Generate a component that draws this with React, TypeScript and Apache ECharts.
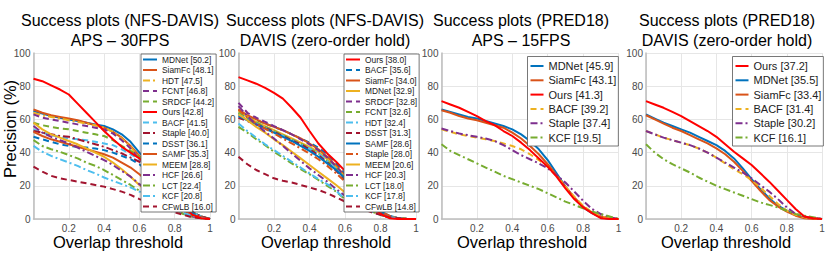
import React, { useEffect, useRef } from 'react';
import * as echarts from 'echarts';

// Overlap thresholds (x values)
const thresholds = [0, 0.05, 0.1, 0.15, 0.2, 0.25, 0.3, 0.35, 0.4, 0.45, 0.5, 0.55, 0.6, 0.65, 0.7, 0.75, 0.8, 0.85, 0.9, 0.95, 1];

const xTicks = [0, 0.2, 0.4, 0.6, 0.8, 1];
const yTicks = [0, 20, 40, 60, 80, 100];

const titles = [
  ['Success plots (NFS-DAVIS)', 'APS – 30FPS'],
  ['Success plots (NFS-DAVIS)', 'DAVIS (zero-order hold)'],
  ['Success plots (PRED18)', 'APS – 15FPS'],
  ['Success plots (PRED18)', 'DAVIS (zero-order hold)'],
];
const xLabel = 'Overlap threshold';
const yLabel = 'Precision (%)';

// ---------- Panel 1: NFS-DAVIS, APS 30FPS ----------
const p1Names = ['MDNet [50.2]', 'SiamFc [48.1]', 'HDT [47.5]', 'FCNT [46.8]', 'SRDCF [44.2]', 'Ours [42.8]', 'BACF [41.5]', 'Staple [40.0]', 'DSST [36.1]', 'SAMF [35.3]', 'MEEM [28.8]', 'HCF [26.6]', 'LCT [22.4]', 'KCF [20.8]', 'CFwLB [16.0]'];
const p1MDNet = [65, 63.5, 62, 61, 60, 59, 58, 57, 56, 54, 51, 46.5, 40, 34, 28, 21, 14, 8, 4, 1.5, 0];
const p1SiamFc = [66, 64, 62.5, 61.5, 60.5, 59.5, 58, 56.5, 55, 52.5, 49, 44, 38, 32, 26, 20, 13.5, 8, 4, 1.5, 0];
const p1HDT = [64, 62.5, 61.5, 60.5, 59.5, 58.5, 57.5, 56.5, 55, 52.5, 48.5, 43.5, 37, 31, 25, 19, 13, 7.5, 3.5, 1, 0];
const p1FCNT = [63, 61, 60, 59, 58, 57, 56, 55, 54, 51.5, 47.5, 42.5, 36, 30.5, 25, 19, 13, 7.5, 3.5, 1, 0];
const p1SRDCF = [58, 56.5, 55.5, 54.5, 54, 53, 52, 51, 50, 47.5, 44, 41, 37.5, 32, 26, 20, 14, 8, 4, 1.5, 0];
const p1Ours = [84.5, 83, 80.5, 78, 75, 69.5, 64, 58.5, 53, 48, 43.5, 40, 36.5, 32, 26.5, 20.5, 14, 8, 2.5, 0.5, 0];
const p1BACF = [54, 52, 50.5, 49.5, 48.5, 48, 47.5, 46.5, 45.5, 44.5, 42, 39, 36, 31, 25.5, 19.5, 13.5, 8, 4, 1.5, 0];
const p1Staple = [53, 52, 51, 50, 49.5, 48, 46.5, 45, 43.5, 41.5, 39.5, 37, 34.5, 30, 25, 19.5, 13.5, 8, 4, 1.5, 0];
const p1DSST = [49.5, 48, 46.5, 45, 44, 43.5, 43, 42.5, 41.5, 40, 38, 36, 33, 28.5, 23.5, 18, 12.5, 7.5, 3.5, 1, 0];
const p1SAMF = [52.5, 50, 48, 46.5, 45, 43.5, 42, 40.5, 39, 37, 34, 31, 27, 22.5, 18, 13.5, 9, 5, 2.5, 1, 0];
const p1MEEM = [58, 54, 51, 49, 47, 45, 42.5, 40, 37.5, 34, 30, 25.5, 20.5, 16, 12, 8.5, 5.5, 3, 1.5, 0.5, 0];
const p1HCF = [56, 52, 49.5, 47.5, 45.5, 43, 40.5, 38, 35.5, 32.5, 29, 25.5, 21, 17, 13, 9.5, 6, 3.5, 1.5, 0.5, 0];
const p1LCT = [47.5, 44, 42, 40.5, 38.5, 36.5, 34, 32, 29.5, 26.5, 23.5, 20.5, 17, 14, 11, 8, 5.5, 3, 1.5, 0.5, 0];
const p1KCF = [44, 40.5, 38, 36, 34, 32, 29.5, 27.5, 25, 23, 21, 19, 16.5, 14, 11, 8.5, 6, 3.5, 2, 0.5, 0];
const p1CFwLB = [31.5, 28.5, 26, 24.5, 23.5, 22.5, 21.5, 20.5, 19.5, 18, 16.5, 14.5, 12, 10, 8, 6, 4, 2.5, 1, 0.5, 0];

// ---------- Panel 2: NFS-DAVIS, DAVIS (zero-order hold) ----------
const p2Names = ['Ours [38.0]', 'BACF [35.6]', 'SiamFc [34.0]', 'MDNet [32.9]', 'SRDCF [32.8]', 'FCNT [32.6]', 'HDT [32.4]', 'DSST [31.3]', 'SAMF [28.6]', 'Staple [28.0]', 'MEEM [20.6]', 'HCF [20.3]', 'LCT [18.0]', 'KCF [17.8]', 'CFwLB [14.8]'];
const p2Ours = [85.5, 83.5, 81.5, 79, 76, 72.5, 67, 61, 53, 45.5, 39.5, 34.5, 29, 21, 14, 8, 3, 0.5, 0, 0, 0];
const p2BACF = [63, 61.5, 59.5, 57.5, 55.5, 53.5, 51, 48.5, 46, 43, 39, 33.5, 27, 20, 13, 7.5, 3.5, 1, 0.5, 0, 0];
const p2SiamFc = [66, 62.5, 60, 57.5, 55.5, 53.5, 51, 48.5, 45.5, 42, 37.5, 32, 26, 19.5, 13, 7.5, 3.5, 1.5, 0.5, 0, 0];
const p2MDNet = [65, 61.5, 58.5, 56, 53.5, 51, 48.5, 46, 43.5, 40.5, 36, 31, 25, 19, 13, 8, 4, 1.5, 0.5, 0, 0];
const p2SRDCF = [70, 64, 61, 58.5, 56, 53.5, 51, 48, 45, 41.5, 37, 31.5, 25.5, 19, 12.5, 7, 3, 1, 0.5, 0, 0];
const p2FCNT = [64, 60.5, 58, 55.5, 53, 50.5, 48, 45.5, 42.5, 39.5, 35, 30, 24.5, 18.5, 12.5, 7.5, 3.5, 1.5, 0.5, 0, 0];
const p2HDT = [63, 60, 57.5, 55, 52.5, 50, 47.5, 45, 42.5, 39.5, 35, 30, 24, 18, 12, 7, 3.5, 1.5, 0.5, 0, 0];
const p2DSST = [61, 59, 57, 55, 52.5, 50, 47.5, 45, 42, 38.5, 34, 29, 23.5, 17.5, 12, 7, 3.5, 1.5, 0.5, 0, 0];
const p2SAMF = [62, 59.5, 57, 54.5, 52, 49.5, 47, 44, 41, 37.5, 33.5, 29.5, 24.5, 19, 13.5, 8.5, 4.5, 2, 0.5, 0, 0];
const p2Staple = [66, 61, 57.5, 54.5, 51.5, 48.5, 45.5, 42.5, 39.5, 36, 32, 27.5, 22.5, 17.5, 12.5, 8, 4.5, 2, 0.5, 0, 0];
const p2MEEM = [63, 59.5, 55.5, 52, 48, 44.5, 40.5, 36.5, 32.5, 28.5, 24.5, 20.5, 16, 12, 8, 5, 2.5, 1, 0.5, 0, 0];
const p2HCF = [68, 62, 57, 52.5, 48.5, 44, 39.5, 35, 30.5, 26.5, 22.5, 18, 14, 10.5, 7, 4.5, 2.5, 1, 0.5, 0, 0];
const p2LCT = [55.5, 52, 48, 44.5, 40.5, 37, 33.5, 30, 27, 23.5, 20, 16.5, 12, 9, 6.5, 4.5, 2.5, 1, 0.5, 0, 0];
const p2KCF = [57.5, 53, 49, 45, 41.5, 38, 34.5, 31, 27.5, 24, 21, 17, 12, 9, 6.5, 4.5, 2.5, 1, 0.5, 0, 0];
const p2CFwLB = [37.5, 33, 29.5, 27, 24.5, 23, 22, 20.5, 19, 17.5, 15.5, 13, 10.5, 8, 6, 4, 2.5, 1, 0.5, 0, 0];

// ---------- Panel 3: PRED18, APS 15FPS ----------
const p3Names = ['MDNet [45.9]', 'SiamFc [43.1]', 'Ours [41.3]', 'BACF [39.2]', 'Staple [37.4]', 'KCF [19.5]'];
const p3MDNet = [66, 64.5, 63, 61.5, 60.5, 59, 57.5, 56, 54, 51, 47, 42, 35.5, 27.5, 19.5, 12.5, 7, 3.5, 1, 0, 0];
const p3SiamFc = [65.5, 64, 62, 60.5, 59.5, 58, 56.5, 55, 52, 48.5, 44, 39, 33, 26.5, 19.5, 13, 7.5, 4, 1.5, 0.5, 0];
const p3Ours = [71, 69, 67, 64.5, 62, 59, 56.5, 53, 50, 46, 41.5, 36.5, 31.5, 25.5, 18.5, 12, 7, 3.5, 0.5, 0, 0];
const p3BACF = [54, 52.5, 51, 50, 49, 48, 47, 45.5, 44, 42, 39, 35.5, 31.5, 26, 19.5, 13.5, 8, 4, 1.5, 0.5, 0];
const p3Staple = [54.5, 53, 51.5, 50.5, 49.5, 48.5, 47, 44.5, 41.5, 38.5, 36, 33.5, 30.5, 26.5, 22, 16.5, 11, 6, 3, 1, 0];
const p3KCF = [45, 41, 38.5, 36, 33.5, 31, 28.5, 26, 24, 22, 20, 18, 15.5, 13, 10.5, 8.5, 6.5, 4.5, 3, 1.5, 0];

// ---------- Panel 4: PRED18, DAVIS (zero-order hold) ----------
const p4Names = ['Ours [37.2]', 'MDNet [35.5]', 'SiamFc [33.4]', 'BACF [31.4]', 'Staple [30.2]', 'KCF [16.1]'];
const p4Ours = [71, 69, 67, 64.5, 62, 59, 56, 53, 49.5, 45, 40.5, 36.5, 32.5, 27.5, 22.5, 17, 11.5, 6, 1.5, 0.5, 0];
const p4MDNet = [63, 60.5, 58, 56, 54, 52, 49.5, 47, 44.5, 41, 36.5, 30.5, 24, 18, 12.5, 8, 5, 2.5, 1, 0.5, 0];
const p4SiamFc = [62.5, 60, 57.5, 55, 53, 50.5, 48, 45.5, 42.5, 39, 34.5, 29, 23, 17, 11.5, 7.5, 4.5, 2, 0.5, 0, 0];
const p4BACF = [53, 51, 49, 47.5, 46, 44.5, 42.5, 40, 37, 33.5, 30, 27, 23.5, 19, 14, 9, 5, 2.5, 1, 0.5, 0];
const p4Staple = [53, 51, 49, 47.5, 46, 44.5, 42.5, 40, 37, 34, 31, 28, 24.5, 20.5, 16.5, 12, 7, 3, 1.5, 0.5, 0];
const p4KCF = [45, 40, 36, 33, 30.5, 28, 25, 22.5, 20, 18, 16, 14, 12, 10, 8.5, 7, 5, 3, 2, 1, 0];

const BLUE = '#0072BD';
const ORANGE = '#D95319';
const YELLOW = '#EDB120';
const PURPLE = '#7E2F8E';
const GREEN = '#77AC30';
const CYAN = '#4DBEEE';
const MAROON = '#A2142F';
const RED = '#FF0000';
const SOLID = 'solid';
const DASH = [6, 4];
const DASHDOT = [7, 3, 2, 3];

const FONT = "'Liberation Sans', Arial, Helvetica, sans-serif";

type Spec = [number[], string, any];

const panel1: Spec[] = [
  [p1MDNet, BLUE, SOLID], [p1SiamFc, ORANGE, SOLID], [p1HDT, YELLOW, DASHDOT], [p1FCNT, PURPLE, DASH],
  [p1SRDCF, GREEN, DASH], [p1Ours, RED, SOLID], [p1BACF, CYAN, DASH], [p1Staple, MAROON, DASHDOT],
  [p1DSST, BLUE, DASH], [p1SAMF, ORANGE, SOLID], [p1MEEM, YELLOW, SOLID], [p1HCF, PURPLE, DASHDOT],
  [p1LCT, GREEN, DASHDOT], [p1KCF, CYAN, DASHDOT], [p1CFwLB, MAROON, DASH],
];
const panel2: Spec[] = [
  [p2Ours, RED, SOLID], [p2BACF, BLUE, DASH], [p2SiamFc, ORANGE, SOLID], [p2MDNet, YELLOW, SOLID],
  [p2SRDCF, PURPLE, DASH], [p2FCNT, GREEN, DASH], [p2HDT, CYAN, DASHDOT], [p2DSST, MAROON, DASH],
  [p2SAMF, BLUE, SOLID], [p2Staple, ORANGE, DASHDOT], [p2MEEM, YELLOW, SOLID], [p2HCF, PURPLE, DASHDOT],
  [p2LCT, GREEN, DASHDOT], [p2KCF, CYAN, DASHDOT], [p2CFwLB, MAROON, DASH],
];
const panel3: Spec[] = [
  [p3MDNet, BLUE, SOLID], [p3SiamFc, ORANGE, SOLID], [p3Ours, RED, SOLID],
  [p3BACF, YELLOW, DASH], [p3Staple, PURPLE, DASHDOT], [p3KCF, GREEN, DASHDOT],
];
const panel4: Spec[] = [
  [p4Ours, RED, SOLID], [p4MDNet, BLUE, SOLID], [p4SiamFc, ORANGE, SOLID],
  [p4BACF, YELLOW, DASH], [p4Staple, PURPLE, DASHDOT], [p4KCF, GREEN, DASHDOT],
];

const panels = [
  { names: p1Names, specs: panel1, left: 33.5, width: 176.5, titleX: 120, xlabX: 118 },
  { names: p2Names, specs: panel2, left: 238.5, width: 177.5, titleX: 325, xlabX: 326 },
  { names: p3Names, specs: panel3, left: 441.5, width: 177, titleX: 521, xlabX: 522 },
  { names: p4Names, specs: panel4, left: 646, width: 176, titleX: 727, xlabX: 726 },
];

const legendLayouts = [
  { left: 141, top: 54, padding: [1.5, 2, 1.5, 1], itemWidth: 14, itemHeight: 8.5, itemGap: 2.5, fontSize: 8.4 },
  { left: 344, top: 54, padding: [1.5, 2, 1.5, 1], itemWidth: 14, itemHeight: 8.5, itemGap: 2.5, fontSize: 8.4 },
  { left: 527.5, top: 56.5, padding: [4, 2, 3, 2], itemWidth: 13, itemHeight: 11, itemGap: 3.3, fontSize: 11 },
  { left: 732.5, top: 56.5, padding: [4, 2, 3, 2], itemWidth: 13, itemHeight: 11, itemGap: 3.3, fontSize: 11 },
];

export default function App() {
  const ref = useRef<HTMLDivElement>(null);

  useEffect(() => {
    if (!ref.current) return;
    const chart = echarts.init(ref.current, undefined, { renderer: 'svg' });

    const grid: any[] = [];
    const xAxis: any[] = [];
    const yAxis: any[] = [];
    const series: any[] = [];
    const legend: any[] = [];
    const graphic: any[] = [];

    panels.forEach((p, pi) => {
      grid.push({ left: p.left, top: 53, width: p.width, height: 166, containLabel: false });
      xAxis.push({
        type: 'value', gridIndex: pi, min: xTicks[0], max: xTicks[xTicks.length - 1], interval: 0.2,
        axisLine: { show: true, onZero: false, lineStyle: { color: '#bdbdbd', width: 1.5 } },
        axisTick: { show: false },
        splitLine: { show: true, lineStyle: { color: '#e6e6e6', width: 1 } },
        axisLabel: {
          color: '#4a4a4a', fontSize: 10, fontFamily: FONT, margin: 4, lineHeight: 10,
          formatter: (v: number) => (Math.abs(v) < 1e-9 ? '' : String(Number(v.toFixed(1)))),
        },
      });
      yAxis.push({
        type: 'value', gridIndex: pi, min: yTicks[0], max: yTicks[yTicks.length - 1], interval: 20,
        axisLine: { show: true, lineStyle: { color: '#bdbdbd', width: 1.5 } },
        axisTick: { show: false },
        splitLine: { show: true, lineStyle: { color: '#e6e6e6', width: 1 } },
        axisLabel: { color: '#4a4a4a', fontSize: 10, fontFamily: FONT, margin: 3 },
      });
      p.specs.forEach(([vals, color, type], si) => {
        const name = p.names[si];
        series.push({
          type: 'line', name, xAxisIndex: pi, yAxisIndex: pi,
          data: thresholds.map((t, i) => [t, vals[i]]),
          symbol: 'none', showSymbol: false, silent: true, color,
          lineStyle: { color, width: 2, type },
          itemStyle: { color },
          z: name.startsWith('Ours') ? 3 : 2,
        });
      });
      const L = legendLayouts[pi];
      legend.push({
        orient: 'vertical', left: L.left, top: L.top, padding: L.padding,
        itemWidth: L.itemWidth, itemHeight: L.itemHeight, itemGap: L.itemGap,
        backgroundColor: '#ffffff', borderColor: '#555555', borderWidth: 0.8, borderRadius: 0,
        selectedMode: false, data: p.names,
        itemStyle: { color: 'transparent', borderColor: 'transparent', borderWidth: 0, opacity: 0 },
        lineStyle: { width: 2, type: 'inherit' },
        textStyle: { fontSize: L.fontSize, color: '#222222', fontFamily: FONT },
      });
      graphic.push({
        type: 'text', x: p.titleX, y: 20, z: 10,
        style: { text: titles[pi][0], font: `16px ${FONT}`, fill: '#000', textAlign: 'center', textVerticalAlign: 'middle' },
      });
      graphic.push({
        type: 'text', x: p.titleX, y: 40, z: 10,
        style: { text: titles[pi][1], font: `16px ${FONT}`, fill: '#000', textAlign: 'center', textVerticalAlign: 'middle' },
      });
      graphic.push({
        type: 'text', x: p.xlabX, y: 242, z: 10,
        style: { text: xLabel, font: `16.5px ${FONT}`, fill: '#000', textAlign: 'center', textVerticalAlign: 'middle' },
      });
    });

    graphic.push({
      type: 'text', x: 10, y: 129, rotation: Math.PI / 2, z: 10,
      style: { text: yLabel, font: `16.5px ${FONT}`, fill: '#000', textAlign: 'center', textVerticalAlign: 'middle' },
    });

    chart.setOption({
      animation: false,
      backgroundColor: '#ffffff',
      grid, xAxis, yAxis, series, legend, graphic,
    });

    return () => chart.dispose();
  }, []);

  return (
    <div
      ref={ref}
      style={{ position: 'fixed', left: 0, top: 0, width: 830, height: 260 }}
    />
  );
}
